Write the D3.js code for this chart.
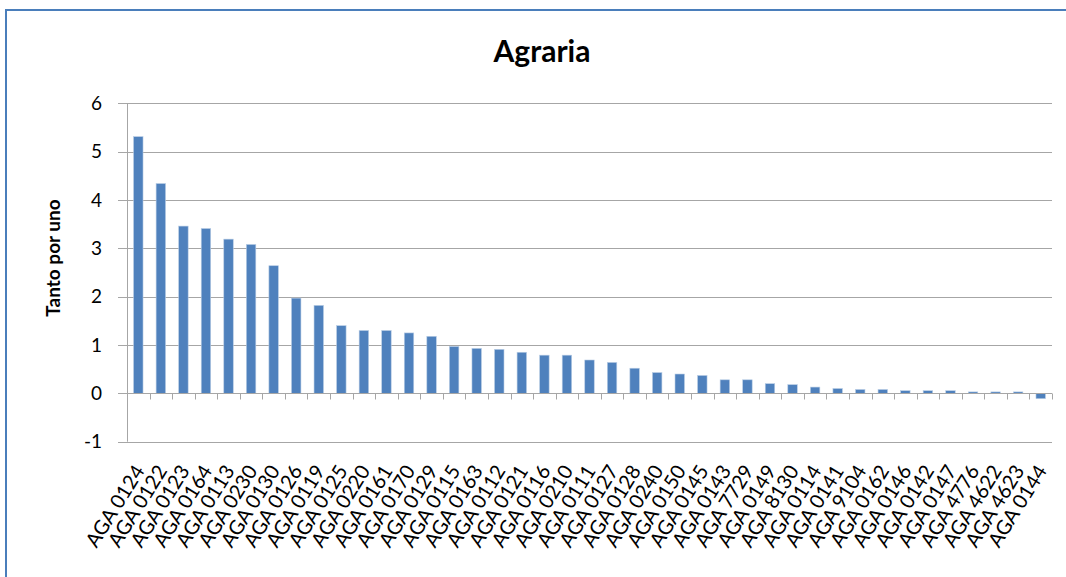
<!DOCTYPE html>
<html lang="es">
<head>
<meta charset="utf-8" />
<title>Agraria</title>
<script src="https://d3js.org/d3.v7.min.js"></script>
<style>
  body { margin: 0; background: #ffffff; }
  svg text { font-family: Lato, "Open Sans", sans-serif; fill: #000; }
</style>
</head>
<body>
<svg id="chart" width="1066" height="577" xmlns="http://www.w3.org/2000/svg"></svg>
<script>
const categories = ["AGA 0124","AGA 0122","AGA 0123","AGA 0164","AGA 0113","AGA 0230","AGA 0130","AGA 0126","AGA 0119","AGA 0125","AGA 0220","AGA 0161","AGA 0170","AGA 0129","AGA 0115","AGA 0163","AGA 0112","AGA 0121","AGA 0116","AGA 0210","AGA 0111","AGA 0127","AGA 0128","AGA 0240","AGA 0150","AGA 0145","AGA 0143","AGA 7729","AGA 0149","AGA 8130","AGA 0114","AGA 0141","AGA 9104","AGA 0162","AGA 0146","AGA 0142","AGA 0147","AGA 4776","AGA 4622","AGA 4623","AGA 0144"];
const values = [5.31, 4.34, 3.46, 3.41, 3.19, 3.08, 2.64, 1.97, 1.82, 1.40, 1.30, 1.30, 1.25, 1.18, 0.97, 0.93, 0.91, 0.85, 0.79, 0.79, 0.69, 0.64, 0.52, 0.43, 0.40, 0.37, 0.28, 0.28, 0.20, 0.18, 0.13, 0.10, 0.08, 0.08, 0.055, 0.055, 0.055, 0.03, 0.03, 0.03, -0.11];
const yTicks = [-1, 0, 1, 2, 3, 4, 5, 6];
const title = "Agraria";
const yTitle = "Tanto por uno";

const svg = d3.select("#chart");
const plot = {left: 127, right: 1052, top: 103.3, bottom: 441.7};

// chart frame (only top and left edges fall inside the window)
svg.append("rect")
  .attr("x", 6).attr("y", 10)
  .attr("width", 1100).attr("height", 620)
  .attr("fill", "#fff")
  .attr("stroke", "#4a7ebb")
  .attr("stroke-width", 2);

const x = d3.scaleBand()
  .domain(categories)
  .range([plot.left, plot.right])
  .padding(0);

const y = d3.scaleLinear()
  .domain([-1, 6])
  .range([plot.bottom, plot.top]);

// gridlines
svg.append("g")
  .selectAll("line")
  .data(yTicks)
  .join("line")
  .attr("x1", plot.left - 9)
  .attr("x2", plot.right)
  .attr("y1", d => Math.round(y(d)) + 0.5)
  .attr("y2", d => Math.round(y(d)) + 0.5)
  .attr("stroke", "#a6a6a6")
  .attr("stroke-width", 1);

// y axis line
svg.append("line")
  .attr("x1", plot.left + 0.5).attr("x2", plot.left + 0.5)
  .attr("y1", y(6)).attr("y2", y(-1))
  .attr("stroke", "#a6a6a6");

// y tick labels
svg.append("g")
  .selectAll("text")
  .data(yTicks)
  .join("text")
  .attr("x", 102)
  .attr("y", d => y(d))
  .attr("dy", "0.35em")
  .attr("text-anchor", "end")
  .style("font-size", "19px")
  .text(d => d);

// bars
const barW = x.bandwidth() * 0.42;
svg.append("g")
  .selectAll("rect")
  .data(values)
  .join("rect")
  .attr("x", (d, i) => x(categories[i]) + (x.bandwidth() - barW) / 2)
  .attr("y", d => y(Math.max(0, d)))
  .attr("width", barW)
  .attr("height", d => Math.abs(y(d) - y(0)))
  .attr("fill", "#4f81bd")
  .attr("stroke", "#b9cde5")
  .attr("stroke-width", 0.6);

// x axis at zero with ticks between categories
const y0 = Math.round(y(0)) + 0.5;
svg.append("line")
  .attr("x1", plot.left).attr("x2", plot.right)
  .attr("y1", y0).attr("y2", y0)
  .attr("stroke", "#a6a6a6");
svg.append("g")
  .selectAll("line")
  .data(categories.concat([null]))
  .join("line")
  .attr("x1", (d, i) => Math.round(plot.left + i * x.step()) + 0.5)
  .attr("x2", (d, i) => Math.round(plot.left + i * x.step()) + 0.5)
  .attr("y1", y0)
  .attr("y2", y0 + 6)
  .attr("stroke", "#a6a6a6");

// category labels
svg.append("g")
  .selectAll("text")
  .data(categories)
  .join("text")
  .attr("transform", d => `translate(${x(d) + x.bandwidth() / 2 + 7},${plot.bottom + 29}) rotate(-58)`)
  .attr("text-anchor", "end")
  .style("font-size", "20px")
  .text(d => d);

// title
svg.append("text")
  .attr("x", 542).attr("y", 62)
  .attr("text-anchor", "middle")
  .style("font-size", "30px")
  .style("font-weight", "bold")
  .text(title);

// y axis title
svg.append("text")
  .attr("transform", "translate(60,258) rotate(-90)")
  .attr("text-anchor", "middle")
  .style("font-size", "19px")
  .style("font-weight", "bold")
  .text(yTitle);
</script>
</body>
</html>
